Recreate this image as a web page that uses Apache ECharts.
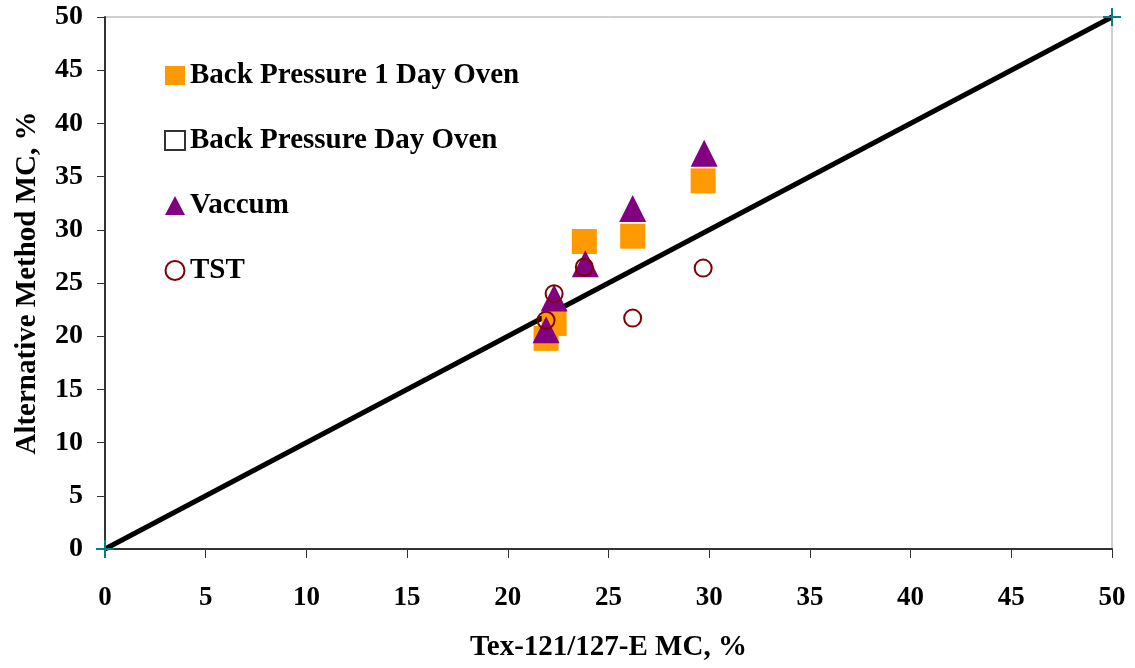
<!DOCTYPE html>
<html>
<head>
<meta charset="utf-8">
<script src="https://cdn.jsdelivr.net/npm/echarts@6/dist/echarts.min.js"></script>
<style>
  html, body { margin: 0; padding: 0; background: #fff; }
  #main { width: 1135px; height: 668px; }
</style>
</head>
<body>
<div id="main"></div>
<script>
  // data: [Tex-121/127-E MC, alternative MC]
  var backPressure1Day = [[21.9, 19.8], [22.3, 21.2], [23.8, 28.9], [26.2, 29.4], [29.7, 34.6]];
  var backPressureDay = [];
  var vaccum = [[21.9, 20.6], [22.3, 23.6], [23.85, 26.8], [26.2, 32.0], [29.75, 37.2]];
  var tst = [[21.9, 21.5], [22.3, 24.0], [23.8, 26.5], [26.2, 21.7], [29.7, 26.4]];
  var equalityLine = [[0, 0], [50, 50]];

  var font = "'Liberation Serif', 'Times New Roman', serif";
  var plus = "path://M0,8L18,8L18,10L0,10Z M8,0L10,0L10,18L8,18Z";

  var myChart = echarts.init(document.getElementById("main"));
  var option = {
    animation: false,
    textStyle: { fontFamily: font },
    grid: {
      left: 105, right: 23, top: 17, bottom: 119,
      show: true, borderColor: "#a0a0a0", borderWidth: 1, backgroundColor: "transparent",
    },
    legend: {
      orient: "vertical",
      left: 159,
      top: 56,
      itemGap: 36,
      itemWidth: 20,
      itemHeight: 19,
      data: ["Back Pressure 1 Day Oven", "Back Pressure Day Oven", "Vaccum", "TST"],
      textStyle: { fontFamily: font, fontSize: 29, fontWeight: "bold", color: "#000" },
    },
    xAxis: {
      type: "value", min: 0, max: 50, interval: 5,
      name: "Tex-121/127-E MC, %",
      nameLocation: "middle", nameGap: 84,
      nameTextStyle: { fontFamily: font, fontSize: 29, fontWeight: "bold", color: "#000" },
      axisLine: { show: true, onZero: false, lineStyle: { color: "#333", width: 2 } },
      axisTick: { show: true, inside: false, length: 9, lineStyle: { color: "#333" } },
      axisLabel: { margin: 36, fontFamily: font, fontSize: 27, fontWeight: "bold", color: "#000" },
      splitLine: { show: false },
    },
    yAxis: {
      type: "value", min: 0, max: 50, interval: 5,
      name: "Alternative Method MC, %",
      nameLocation: "middle", nameGap: 63,
      nameTextStyle: { fontFamily: font, fontSize: 29, fontWeight: "bold", color: "#000" },
      axisLine: { show: true, onZero: false, lineStyle: { color: "#333", width: 2 } },
      axisTick: { show: true, inside: false, length: 8, lineStyle: { color: "#333" } },
      axisLabel: { margin: 22, fontFamily: font, fontSize: 28, fontWeight: "bold", color: "#000" },
      splitLine: { show: false },
    },
    series: [
      {
        name: "1:1",
        type: "line",
        data: equalityLine,
        symbol: plus,
        symbolSize: 18,
        showAllSymbol: true,
        itemStyle: { color: "#008080" },
        lineStyle: { color: "#000", width: 5 },
        z: 1,
      },
      {
        name: "Back Pressure 1 Day Oven",
        type: "scatter",
        data: backPressure1Day,
        symbol: "rect",
        symbolSize: 25,
        itemStyle: { color: "#ff9900", opacity: 1 },
        z: 2,
      },
      {
        name: "Back Pressure Day Oven",
        type: "scatter",
        data: backPressureDay,
        symbol: "rect",
        symbolSize: 18,
        itemStyle: { color: "#fff", borderColor: "#000", borderWidth: 2 },
        z: 3,
      },
      {
        name: "Vaccum",
        type: "scatter",
        data: vaccum,
        symbol: "triangle",
        symbolSize: 27,
        itemStyle: { color: "#800080", opacity: 1 },
        z: 4,
      },
      {
        name: "TST",
        type: "scatter",
        data: tst,
        symbol: "circle",
        symbolSize: 17,
        itemStyle: { color: "transparent", borderColor: "#800000", borderWidth: 2, opacity: 1 },
        z: 5,
      },
    ],
  };
  myChart.setOption(option);
</script>
</body>
</html>
